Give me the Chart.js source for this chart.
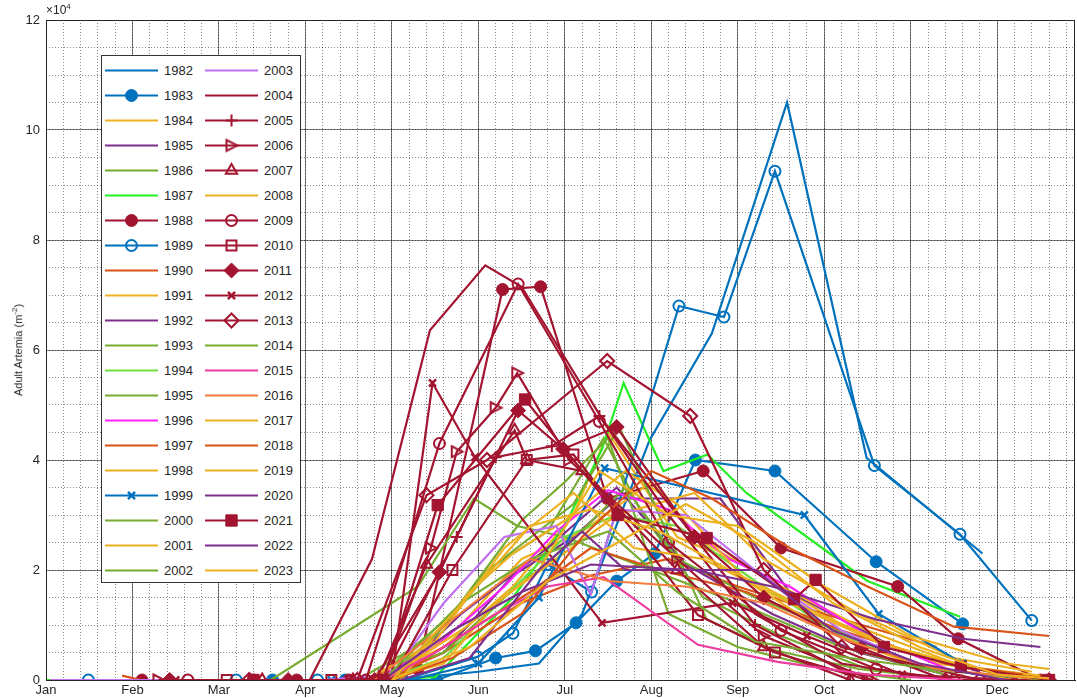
<!DOCTYPE html>
<html>
<head>
<meta charset="utf-8">
<script src="https://cdn.jsdelivr.net/npm/chart.js@4.4.1/dist/chart.umd.min.js"></script>
<style>
  body { margin: 0; background: #fff; }
  #wrap { position: relative; width: 1077px; height: 698px; font-family: "Liberation Sans", Arial, sans-serif; color: #262626; }
  #legend { position: absolute; left: 101px; top: 55px; width: 198px; height: 526px; border: 1px solid #333; background: #fff; }
  .item { position: absolute; width: 100px; height: 25px; }
  .item canvas { position: absolute; left: 1px; top: 0; }
  .item span { position: absolute; left: 62px; top: 0; line-height: 25px; font-size: 13px; }
  #ylab { position: absolute; left: 17px; top: 350px; transform: translate(-50%, -50%) rotate(-90deg); white-space: nowrap; font-size: 11px; }
  #mult { position: absolute; left: 46px; top: 2px; font-size: 12px; }
  sup { font-size: 8px; }
</style>
</head>
<body>
<div id="wrap">
  <canvas id="chart" width="1077" height="698"></canvas>
  <div id="mult">&times;10<sup>4</sup></div>
  <div id="ylab">Adult Artemia (m<sup>-2</sup>)</div>
  <div id="legend"></div>
</div>
<script>
// mois en unités 1 = Jan ... 12 = Dec ; valeurs en individus par m2
const monthNames = ['Jan','Feb','Mar','Apr','May','Jun','Jul','Aug','Sep','Oct','Nov','Dec'];
const years = [1982,1983,1984,1985,1986,1987,1988,1989,1990,1991,1992,1993,1994,1995,1996,1997,1998,1999,2000,2001,2002,
               2003,2004,2005,2006,2007,2008,2009,2010,2011,2012,2013,2014,2015,2016,2017,2018,2019,2020,2021,2022,2023];

const d1982 = [[4.0,0],[5.0,0],[6.0,1500],[6.7,3000],[7.2,12000],[7.98,43600],[8.7,63000],[9.57,105000],[10.49,40400],[11.83,23000]];
const d1983 = [[3.62,0],[4.46,0],[5.52,0],[6.2,4000],[6.66,5300],[7.13,10400],[7.6,18000],[8.04,23000],[8.51,40000],[9.43,38000],[10.6,21500],[11.6,10200]];
const d1984 = [[4.8,0],[5.6,6000],[6.4,17000],[7.1,30000],[7.5,45000],[8.3,26000],[9.2,20000],[10.2,10000],[11.3,3000],[12.5,500]];
const d1985 = [[4.8,0],[5.6,5000],[6.4,19000],[7.1,26000],[7.6,33000],[8.8,33000],[9.6,16000],[10.8,6000],[11.8,1500]];
const d1986 = [[4.9,0],[5.5,8000],[6.1,20000],[6.8,27000],[7.45,44000],[7.9,30000],[8.6,15000],[9.5,8000],[10.5,2000],[11.5,0]];
const d1987 = [[1.0,0],[1.1,0],[4.6,0],[5.5,500],[6.4,15000],[7.0,28000],[7.43,42000],[7.68,54000],[8.14,38000],[8.65,41000],[9.1,34000],[10.5,18000],[11.57,11500]];
const d1988 = [[2.11,0],[3.9,0],[4.5,0],[5.05,0],[5.3,2000],[6.28,71000],[6.72,71500],[7.49,33000],[8.6,38000],[9.5,24000],[10.85,17000],[11.55,7500],[12.5,0]];
const d1989 = [[1.49,0],[3.2,0],[4.14,0],[5.13,0],[5.99,4200],[6.4,8500],[6.8,21000],[7.31,16000],[8.32,68000],[8.84,66000],[9.43,92500],[10.58,39000],[11.57,26500],[12.4,10800]];
const d1990 = [[1.88,800],[2.1,0],[4.9,0],[5.6,5000],[6.5,14000],[7.3,19000],[8.2,22000],[9.0,17000],[10.0,12000],[11.3,6000]];
const d1991 = [[5.0,0],[5.8,10000],[6.5,22000],[7.2,27000],[8.0,36000],[8.6,25000],[9.5,17000],[10.5,9000],[11.6,2500],[12.5,800]];
const d1992 = [[5.0,0],[5.8,12000],[6.8,24000],[7.6,35000],[8.4,21000],[9.4,12000],[10.4,5000],[11.4,1000]];
const d1993 = [[3.6,0],[5.3,17000],[5.95,33000],[6.45,28000],[7.0,26000],[8.0,20000],[9.0,14000],[10.2,6000],[11.4,1000]];
const d1994 = [[4.9,0],[5.6,4000],[6.3,15000],[7.0,26000],[7.6,30000],[8.3,28000],[9.2,18000],[10.2,8000],[11.2,2000]];
const d1995 = [[4.7,0],[5.6,5000],[6.3,15000],[7.0,24000],[7.7,35000],[8.3,22000],[9.2,15000],[10.3,8000],[11.2,2000]];
const d1996 = [[4.8,0],[5.5,6000],[6.3,17000],[6.9,27000],[7.5,34500],[8.2,31000],[8.9,22000],[9.6,17000],[10.5,8000],[11.5,1500]];
const d1997 = [[5.0,0],[5.8,8000],[6.6,16000],[7.3,24000],[8.1,20000],[9.1,16000],[10.2,9000],[11.4,3000],[12.3,1000]];
const d1998 = [[4.9,0],[5.6,3000],[6.2,14000],[6.9,22000],[7.6,30000],[8.5,34000],[9.3,22000],[10.4,12000],[11.5,4000],[12.4,1500]];
const d1999 = [[4.3,0],[5.2,0],[6.0,3000],[6.7,15000],[7.46,38500],[9.77,30000],[10.63,12000],[11.6,3000],[12.2,0]];
const d2000 = [[4.8,0],[5.7,12000],[6.5,29000],[7.0,36000],[7.5,44000],[8.2,12000],[9.0,6000],[10.0,2000],[11.0,0]];
const d2001 = [[5.1,0],[5.9,16000],[6.4,23000],[7.0,29000],[7.7,38000],[8.3,32000],[9.1,18000],[10.0,9000],[11.0,3000],[12.2,0]];
const d2002 = [[4.6,0],[5.5,8000],[6.2,21000],[7.1,32000],[7.63,46000],[8.64,11000],[9.4,5500],[10.4,2000],[11.5,0]];
const d2003 = [[1.05,0],[2.9,0],[4.2,0],[5.0,1000],[5.6,14000],[6.3,26000],[6.9,28000],[7.3,15600],[7.6,31000],[8.4,30000],[9.2,20000],[10.2,9000],[11.2,2000]];
const d2004 = [[4.05,0],[4.77,22000],[5.44,63600],[6.08,75400],[6.5,71500],[7.45,47000],[8.4,28000],[9.2,12000],[10.2,3000],[11.2,500]];
const d2005 = [[2.45,0],[4.9,0],[5.75,26000],[6.2,40500],[6.85,42500],[7.4,48000],[8.2,30000],[9.2,10000],[10.3,1000]];
const d2006 = [[2.3,0],[4.9,0],[5.45,24000],[5.75,41500],[6.2,49500],[6.45,55800],[7.05,40000],[8.3,22000],[9.3,8000],[10.55,0]];
const d2007 = [[3.5,0],[4.55,0],[4.85,500],[5.4,21000],[6.42,45400],[6.56,40000],[7.2,38000],[8.3,20000],[9.3,6000],[10.3,0]];
const d2008 = [[4.7,0],[5.5,7000],[6.3,24000],[7.1,34000],[7.8,24000],[8.6,22000],[9.6,14000],[10.6,7000],[11.7,2000]];
const d2009 = [[2.64,0],[3.4,0],[4.7,0],[5.55,43000],[6.46,72000],[7.4,47000],[8.2,25000],[9.5,9000],[10.6,2000],[11.5,0]];
const d2010 = [[3.09,0],[4.3,0],[5.0,0],[5.7,20000],[6.56,40000],[7.1,41000],[8.54,11800],[9.43,5000],[10.5,0]];
const d2011 = [[2.43,0],[3.8,0],[4.8,0],[5.55,19600],[6.46,49000],[6.98,42000],[7.6,46000],[8.5,26000],[9.3,15000],[10.43,5800],[11.4,0],[12.6,0]];
const d2012 = [[2.5,0],[4.5,0],[5.0,500],[5.47,54000],[5.96,40500],[7.43,10400],[8.94,14000],[9.8,8000],[10.9,1000],[12.2,0]];
const d2013 = [[3.35,0],[4.6,0],[5.4,33600],[6.1,40000],[7.49,58000],[8.45,48000],[9.3,20000],[10.2,6000],[11.8,0]];
const d2014 = [[4.9,0],[5.8,14000],[6.6,22000],[7.5,27000],[8.3,16000],[9.2,7000],[10.3,4000],[11.5,1500],[12.6,0]];
const d2015 = [[4.9,0],[5.5,5000],[6.2,12000],[6.8,17000],[7.45,18700],[8.54,6400],[9.46,3300],[10.5,1000],[11.6,0]];
const d2016 = [[4.8,0],[5.7,11000],[6.6,22000],[7.5,18000],[8.4,17000],[9.3,14000],[10.3,7000],[11.3,2000],[12.4,300]];
const d2017 = [[5.0,0],[5.7,12000],[6.6,28000],[7.3,31000],[8.1,27000],[8.9,20000],[9.8,13000],[10.8,6000],[11.9,1500]];
const d2018 = [[5.0,0],[5.7,4000],[6.5,12000],[7.2,26000],[8.0,38000],[8.7,33000],[9.6,24000],[10.5,17000],[11.5,9700],[12.6,8000]];
const d2019 = [[4.9,0],[5.8,9000],[6.7,20000],[7.4,38000],[8.2,30000],[9.0,28000],[10.0,17000],[11.0,8000],[12.1,3000],[12.6,2000]];
const d2020 = [[4.9,0],[5.7,9000],[6.5,16000],[7.3,21000],[8.5,20000],[9.4,17000],[10.6,11000],[11.6,7500],[12.5,6000]];
const d2021 = [[3.4,0],[4.9,0],[5.53,31800],[6.54,51000],[7.61,30000],[8.64,25800],[9.65,14700],[9.9,18200],[10.69,6000],[11.58,2400],[12.6,0]];
const d2022 = [[5.1,0],[5.9,4000],[6.7,20000],[7.2,27000],[7.7,20000],[9.2,20000],[10.1,9000],[11.1,3000],[12.1,0]];
const d2023 = [[5.0,0],[5.9,6000],[6.8,18000],[7.5,24000],[8.4,32000],[9.2,25000],[10.1,14000],[11.1,6000],[12.0,1000],[12.6,300]];

const seriesData = [d1982,d1983,d1984,d1985,d1986,d1987,d1988,d1989,d1990,d1991,d1992,d1993,d1994,d1995,d1996,d1997,d1998,d1999,d2000,d2001,d2002,
                    d2003,d2004,d2005,d2006,d2007,d2008,d2009,d2010,d2011,d2012,d2013,d2014,d2015,d2016,d2017,d2018,d2019,d2020,d2021,d2022,d2023];

// couleurs et marqueurs
const C = { blue:'#0072BD', orange:'#D95319', yellow:'#EDB120', purple:'#7E2F8E', green:'#77AC30',
            lime:'#22EE22', lgreen:'#70DD40', red:'#A2142F', magenta:'#FF22FF', violet:'#C070F0',
            pink:'#F03CA0', lorange:'#F47C3C' };
const lineColors = [C.blue,C.blue,C.yellow,C.purple,C.green,C.lime,C.red,C.blue,C.orange,C.yellow,C.purple,C.green,C.lgreen,C.green,
                    C.magenta,C.orange,C.yellow,C.blue,C.green,C.yellow,C.green,
                    C.violet,C.red,C.red,C.red,C.red,C.yellow,C.red,C.red,C.red,C.red,C.red,C.green,C.pink,C.lorange,C.yellow,
                    C.orange,C.yellow,C.purple,C.red,C.purple,C.yellow];
const markers = ['','dot','','','','','dot','ring','','','','','','','','','','x','','','',
                 '','','plus','triR','triU','','ring','sq','dia','x','diaOpen','','','','','','','','sqFill','',''];

function makeTriRight(color) {
    const c = document.createElement('canvas');
    c.width = 16; c.height = 16;
    const g = c.getContext('2d');
    g.strokeStyle = color; g.lineWidth = 2;
    g.beginPath(); g.moveTo(3, 2.5); g.lineTo(14, 8); g.lineTo(3, 13.5); g.closePath(); g.stroke();
    return c;
}

function markerSpec(kind, color) {
    const none = 'rgba(0,0,0,0)';
    switch (kind) {
        case 'dot':     return { style: 'circle', r: 6, fill: color, bw: 1 };
        case 'ring':    return { style: 'circle', r: 5.5, fill: none, bw: 2 };
        case 'x':       return { style: 'crossRot', r: 5, fill: none, bw: 2.5 };
        case 'plus':    return { style: 'cross', r: 6, fill: none, bw: 2 };
        case 'triR':    return { style: makeTriRight(color), r: 7, fill: none, bw: 2 };
        case 'triU':    return { style: 'triangle', r: 6.5, fill: none, bw: 2 };
        case 'sq':      return { style: 'rect', r: 7, fill: none, bw: 2 };
        case 'sqFill':  return { style: 'rect', r: 8, fill: color, bw: 1 };
        case 'dia':     return { style: 'rectRot', r: 7.5, fill: color, bw: 1 };
        case 'diaOpen': return { style: 'rectRot', r: 7, fill: none, bw: 2 };
        default:        return { style: null };
    }
}

const specs = years.map((y, i) => markerSpec(markers[i], lineColors[i]));

const datasets = years.map((yr, i) => {
    const m = specs[i];
    return {
        label: String(yr),
        data: seriesData[i].map(p => ({ x: p[0], y: p[1] })),
        showLine: true,
        borderColor: lineColors[i],
        borderWidth: 2.2,
        tension: 0,
        fill: false,
        pointStyle: m.style || 'circle',
        pointRadius: m.style ? m.r : 0,
        pointBackgroundColor: m.style ? m.fill : lineColors[i],
        pointBorderColor: lineColors[i],
        pointBorderWidth: m.style ? m.bw : 0,
        order: -i
    };
});

const frame = {
    id: 'frame',
    afterDatasetsDraw(chart) {
        const a = chart.chartArea, ctx = chart.ctx;
        ctx.save();
        ctx.strokeStyle = '#262626';
        ctx.lineWidth = 1;
        ctx.strokeRect(a.left + 0.5, a.top + 0.5, a.right - a.left - 1, a.bottom - a.top);
        ctx.restore();
    }
};

// pas de marge automatique pour les étiquettes : zone de tracé fixe
function noPad(s) { s.paddingLeft = 0; s.paddingRight = 0; s.paddingTop = 0; s.paddingBottom = 0; }

const majorColor = 'rgba(0,0,0,0.5)';
const minorColor = 'rgba(0,0,0,0.45)';
Chart.defaults.font.family = '"Liberation Sans", Arial, sans-serif';

new Chart(document.getElementById('chart'), {
    type: 'scatter',
    data: { datasets: datasets },
    options: {
        responsive: false,
        animation: false,
        events: [],
        layout: { autoPadding: false, padding: { top: 20, right: 2, left: 0, bottom: 0 } },
        plugins: { legend: { display: false }, tooltip: { enabled: false } },
        scales: {
            x2: {
                type: 'linear', position: 'bottom', min: 1, max: 12.9, z: -1,
                ticks: { display: false, stepSize: 0.2, includeBounds: false },
                grid: { color: minorColor, lineWidth: 1, drawTicks: false },
                border: { display: false, dash: [1, 2] },
                afterFit(s) { s.height = 0; noPad(s); }
            },
            y2: {
                type: 'linear', position: 'left', min: 0, max: 120000, z: -1,
                ticks: { display: false, stepSize: 5000 },
                grid: { color: minorColor, lineWidth: 1, drawTicks: false },
                border: { display: false, dash: [1, 2] },
                afterFit(s) { s.width = 0; noPad(s); }
            },
            x: {
                type: 'linear', position: 'bottom', min: 1, max: 12.9,
                ticks: {
                    stepSize: 1, includeBounds: false, autoSkip: false, maxRotation: 0, padding: 3,
                    color: '#262626', font: { size: 13 },
                    callback: v => Number.isInteger(v) && v >= 1 && v <= 12 ? monthNames[v - 1] : ''
                },
                grid: { color: majorColor, lineWidth: 1, drawTicks: false },
                border: { display: true, color: '#262626', width: 1 },
                afterFit(s) { s.height = 18; noPad(s); }
            },
            y: {
                type: 'linear', position: 'left', min: 0, max: 120000,
                ticks: { stepSize: 20000, padding: 6, color: '#262626', font: { size: 13 },
                         callback: v => String(v / 10000) },
                grid: { color: majorColor, lineWidth: 1, drawTicks: false },
                border: { display: true, color: '#262626', width: 1 },
                afterFit(s) { s.width = 46; noPad(s); }
            }
        }
    },
    plugins: [frame]
});

// légende en deux colonnes
function buildLegend() {
    const box = document.getElementById('legend');
    years.forEach((yr, i) => {
        const col = i < 21 ? 0 : 1, row = i % 21;
        const item = document.createElement('div');
        item.className = 'item';
        item.style.left = (col * 100) + 'px';
        item.style.top = (1.5 + row * 25) + 'px';
        const cv = document.createElement('canvas');
        cv.width = 58; cv.height = 25;
        const g = cv.getContext('2d');
        g.strokeStyle = lineColors[i];
        g.lineWidth = 2.2;
        g.beginPath(); g.moveTo(2, 12.5); g.lineTo(55, 12.5); g.stroke();
        const m = specs[i];
        if (m.style && Chart.helpers && Chart.helpers.drawPoint) {
            g.fillStyle = m.fill;
            g.lineWidth = m.bw;
            Chart.helpers.drawPoint(g, { pointStyle: m.style, radius: m.r, borderWidth: m.bw, rotation: 0 }, 28.5, 12.5);
        }
        const sp = document.createElement('span');
        sp.textContent = String(yr);
        item.appendChild(cv);
        item.appendChild(sp);
        box.appendChild(item);
    });
}
buildLegend();
</script>
</body>
</html>
